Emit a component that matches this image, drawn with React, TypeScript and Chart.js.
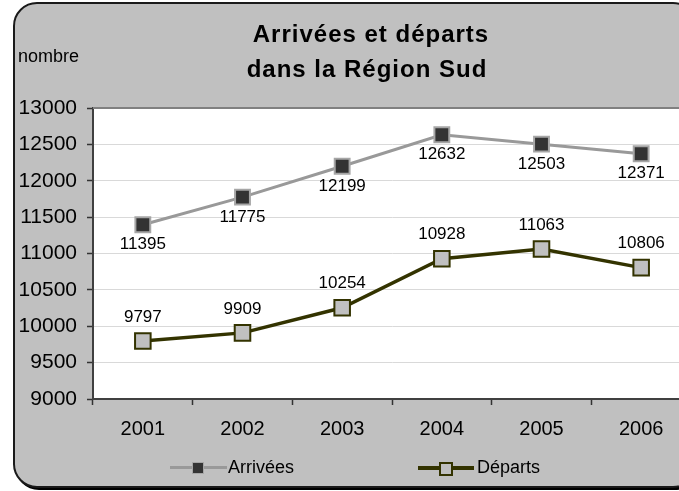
import React, { useEffect, useRef } from "react";
import { Chart, registerables } from "chart.js";

Chart.register(...registerables);

// ---- data ----
const years = ["2001", "2002", "2003", "2004", "2005", "2006"];
const arrivees = [11395, 11775, 12199, 12632, 12503, 12371];
const departs = [9797, 9909, 10254, 10928, 11063, 10806];
const yMin = 9000;
const yMax = 13000;
const yStep = 500;
const titleLines = ["Arrivées et départs", "dans la Région Sud"];
const yAxisLabel = "nombre";
const seriesNames = ["Arrivées", "Départs"];

const FONT = '"Liberation Sans", Arial, Helvetica, sans-serif';
const CANVAS_W = 720;
const CANVAS_H = 491;

const plotBgPlugin = {
  id: "plotBg",
  beforeDraw(chart: any) {
    const { ctx, chartArea } = chart;
    ctx.save();
    ctx.fillStyle = "#ffffff";
    ctx.fillRect(chartArea.left, chartArea.top, chartArea.right - chartArea.left, chartArea.bottom - chartArea.top);
    ctx.restore();
  },
  afterDraw(chart: any) {
    const { ctx, chartArea } = chart;
    ctx.save();
    ctx.strokeStyle = "#808080";
    ctx.lineWidth = 2;
    ctx.beginPath();
    ctx.moveTo(chartArea.left, chartArea.top);
    ctx.lineTo(chartArea.right, chartArea.top);
    ctx.stroke();
    ctx.restore();
  },
};

const dataLabelPlugin = {
  id: "dataLabels",
  afterDatasetsDraw(chart: any) {
    const { ctx } = chart;
    ctx.save();
    ctx.font = `17px ${FONT}`;
    ctx.fillStyle = "#000";
    ctx.textAlign = "center";
    ctx.textBaseline = "middle";
    chart.data.datasets.forEach((ds: any, i: number) => {
      const meta = chart.getDatasetMeta(i);
      meta.data.forEach((pt: any, j: number) => {
        const off = i === 0 ? 20 : -24;
        ctx.fillText(String(ds.data[j]), pt.x, pt.y + off);
      });
    });
    ctx.restore();
  },
};

function ChartCanvas() {
  const ref = useRef<HTMLCanvasElement | null>(null);
  useEffect(() => {
    if (!ref.current) return;
    const chart = new Chart(ref.current, {
      type: "line",
      data: {
        labels: years,
        datasets: [
          {
            label: seriesNames[0],
            data: arrivees,
            borderColor: "#999999",
            borderWidth: 3,
            pointStyle: "rect",
            pointRadius: 10.5,
            pointBackgroundColor: "#333333",
            pointBorderColor: "#a6a6a6",
            pointBorderWidth: 2,
            tension: 0,
          },
          {
            label: seriesNames[1],
            data: departs,
            borderColor: "#333300",
            borderWidth: 3.5,
            pointStyle: "rect",
            pointRadius: 11,
            pointBackgroundColor: "#c0c0c0",
            pointBorderColor: "#333300",
            pointBorderWidth: 2,
            tension: 0,
          },
        ],
      },
      options: {
        responsive: false,
        animation: false,
        devicePixelRatio: 1,
        layout: { padding: { left: 0, top: 108, right: CANVAS_W - 691, bottom: 0 } },
        plugins: {
          legend: { display: false },
          title: { display: false },
          tooltip: { enabled: false },
        },
        scales: {
          x: {
            offset: true,
            ticks: {
              color: "#000",
              font: { family: FONT, size: 20 },
              padding: 12,
              maxRotation: 0,
              autoSkip: false,
            },
            grid: {
              offset: true,
              drawOnChartArea: false,
              tickColor: "#333",
              tickLength: 6,
              tickWidth: 1.5,
            },
            border: { display: true, color: "#404040", width: 2 },
            afterFit: (s: any) => {
              s.height = CANVAS_H - 399;
            },
          },
          y: {
            min: yMin,
            max: yMax,
            ticks: {
              stepSize: yStep,
              color: "#000",
              font: { family: FONT, size: 21 },
              padding: 10,
              callback: (v: any) => String(v),
            },
            grid: {
              color: "#d9d9d9",
              lineWidth: 1,
              tickColor: "#333",
              tickLength: 6,
              tickWidth: 1.5,
            },
            border: { display: true, color: "#404040", width: 2 },
            afterFit: (s: any) => {
              s.width = 93;
            },
          },
        },
      },
      plugins: [plotBgPlugin, dataLabelPlugin],
    } as any);
    return () => chart.destroy();
  }, []);
  return (
    <canvas
      ref={ref}
      width={CANVAS_W}
      height={CANVAS_H}
      style={{ position: "absolute", left: 0, top: 0, width: CANVAS_W, height: CANVAS_H }}
    />
  );
}

export default function App() {
  const text18: React.CSSProperties = {
    position: "absolute",
    fontFamily: FONT,
    fontSize: 18,
    lineHeight: "18px",
    color: "#000",
    whiteSpace: "nowrap",
  };
  const titleStyle: React.CSSProperties = {
    position: "absolute",
    fontFamily: FONT,
    fontSize: 24,
    fontWeight: "bold",
    lineHeight: "24px",
    letterSpacing: "1px",
    color: "#000",
    whiteSpace: "nowrap",
    textAlign: "center",
  };
  return (
    <div
      style={{
        position: "fixed",
        left: 0,
        top: 0,
        width: 679,
        height: 491,
        overflow: "hidden",
        background: "#ffffff",
      }}
    >
      {/* chart frame */}
      <div
        style={{
          position: "absolute",
          left: 13,
          top: 2,
          width: 680,
          height: 482,
          border: "2px solid #1a1a1a",
          borderRadius: 24,
          background: "#c0c0c0",
          boxShadow: "2px 2px 0 #000",
        }}
      />
      <ChartCanvas />
      {/* y axis unit */}
      <div style={{ ...text18, left: 18, top: 47 }}>{yAxisLabel}</div>
      {/* title */}
      <div style={{ ...titleStyle, left: 0, width: 742, top: 22 }}>{titleLines[0]}</div>
      <div style={{ ...titleStyle, left: 0, width: 734, top: 57 }}>{titleLines[1]}</div>
      {/* legend */}
      <div style={{ position: "absolute", left: 170, top: 466, width: 57, height: 3, background: "#999999" }} />
      <div
        style={{
          position: "absolute",
          left: 192,
          top: 462,
          width: 10,
          height: 10,
          background: "#333333",
          border: "1px solid #a6a6a6",
        }}
      />
      <div style={{ ...text18, left: 228, top: 458 }}>{seriesNames[0]}</div>
      <div style={{ position: "absolute", left: 418, top: 466, width: 56, height: 4, background: "#333300" }} />
      <div
        style={{
          position: "absolute",
          left: 439,
          top: 462,
          width: 10,
          height: 10,
          background: "#c0c0c0",
          border: "2px solid #333300",
        }}
      />
      <div style={{ ...text18, left: 477, top: 458 }}>{seriesNames[1]}</div>
    </div>
  );
}
